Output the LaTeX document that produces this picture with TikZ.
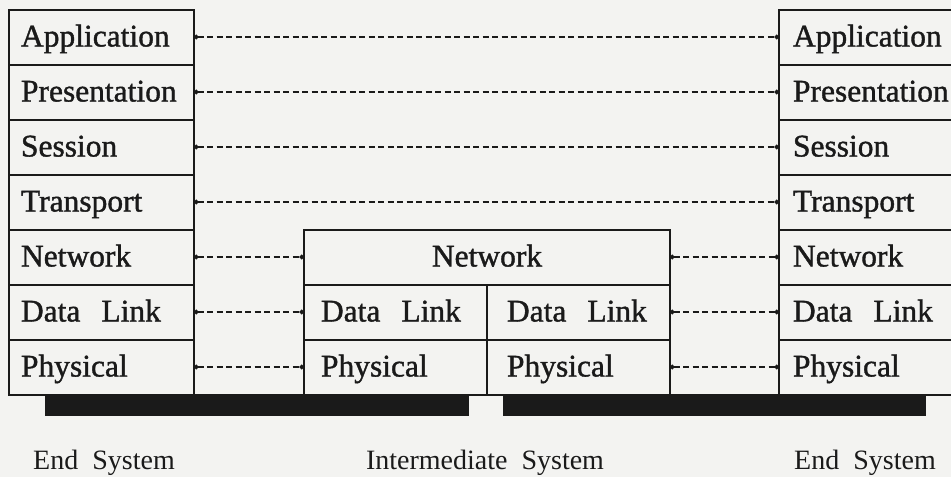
\documentclass[tikz,border=0pt]{standalone}
\usepackage{fontspec}
\setmainfont{Liberation Serif}
\newfontfamily\boxface[FakeBold=1.2]{Liberation Serif}
\usetikzlibrary{arrows.meta}
\definecolor{ink}{HTML}{1A1A1A}
\definecolor{paper}{HTML}{F3F3F1}
\newcommand{\boxfont}{\boxface\fontsize{31.5}{36}\selectfont}
\newcommand{\capfont}{\fontsize{28}{32}\selectfont}
\begin{document}
\begin{tikzpicture}[x=1pt,y=-1pt,
  cell/.style={draw=ink, line width=2pt, anchor=north west, minimum height=55pt,
    inner ysep=0pt, text height=24pt, text depth=5pt, align=left, font=\boxfont, text=ink},
  leftcell/.style={cell, inner xsep=12pt, text width=161pt},
  rightcell/.style={cell, inner xsep=14pt, text width=162pt},
  midcell/.style={cell, inner xsep=17pt, text width=149pt},
  netcell/.style={cell, inner xsep=0pt, text width=366pt, align=center},
  conn/.style={draw=ink, line width=2pt, dash pattern=on 6pt off 3.5pt,
    {Circle[length=4.5pt]}-{Circle[length=4.5pt]}, shorten <=-1pt, shorten >=-1pt},
  bar/.style={fill=ink, draw=none, anchor=north west, inner sep=0pt, minimum height=21.5pt},
  caption/.style={anchor=base, font=\capfont, text=ink, inner sep=0pt}]
\clip (0,0) rectangle (951,477);
\fill[paper] (0,0) rectangle (951,477);
% left end system
\node[leftcell] (L1) at (8,8.5) {Application};
\node[leftcell] (L2) at (8,63.5) {Presentation};
\node[leftcell] (L3) at (8,118.5) {Session};
\node[leftcell] (L4) at (8,173.5) {Transport};
\node[leftcell] (L5) at (8,228.5) {Network};
\node[leftcell] (L6) at (8,283.5) {Data~~Link};
\node[leftcell] (L7) at (8,338.5) {Physical};
% right end system
\node[rightcell] (R1) at (778,8.5) {Application};
\node[rightcell] (R2) at (778,63.5) {Presentation};
\node[rightcell] (R3) at (778,118.5) {Session};
\node[rightcell] (R4) at (778,173.5) {Transport};
\node[rightcell] (R5) at (778,228.5) {Network};
\node[rightcell] (R6) at (778,283.5) {Data~~Link};
\node[rightcell] (R7) at (778,338.5) {Physical};
% intermediate system
\node[netcell] (MN) at (303,228.5) {Network};
\node[midcell] (MDa) at (303,283.5) {Data~~Link};
\node[midcell, inner xsep=20pt, text width=143pt] (MDb) at (486,283.5) {Data~~Link};
\node[midcell] (MPa) at (303,338.5) {Physical};
\node[midcell, inner xsep=20pt, text width=143pt] (MPb) at (486,338.5) {Physical};
% media bars
\node[bar, minimum width=424pt] (B1) at (45,394) {};
\node[bar, minimum width=423pt] (B2) at (503,394) {};
% peer connectors
\draw[conn] (L1.east) -- (R1.west);
\draw[conn] (L2.east) -- (R2.west);
\draw[conn] (L3.east) -- (R3.west);
\draw[conn] (L4.east) -- (R4.west);
\draw[conn] (L5.east) -- (MN.west);
\draw[conn] (L6.east) -- (MDa.west);
\draw[conn] (L7.east) -- (MPa.west);
\draw[conn] (MN.east) -- (R5.west);
\draw[conn] (MDb.east) -- (R6.west);
\draw[conn] (MPb.east) -- (R7.west);
% captions
\node[caption] (C1) at (104,469) {End~~System};
\node[caption] (C2) at (485,469) {Intermediate~~System};
\node[caption] (C3) at (865,469) {End~~System};
\end{tikzpicture}
\end{document}
